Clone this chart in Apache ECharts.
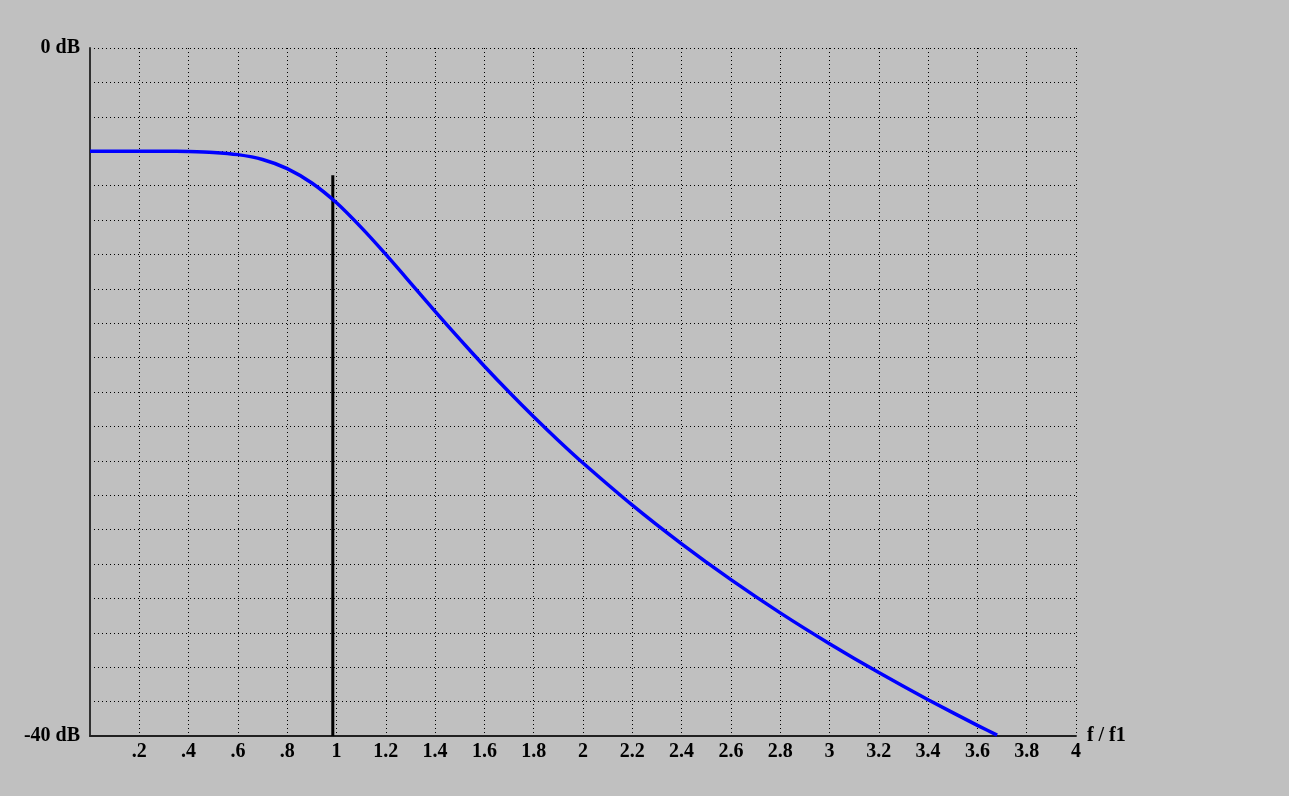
<!DOCTYPE html>
<html>
<head>
<meta charset="utf-8">
<script src="https://cdn.jsdelivr.net/npm/echarts@6/dist/echarts.min.js"></script>
<style>
html,body{margin:0;padding:0;background:#c0c0c0;}
#c{width:1289px;height:796px;}
</style>
</head>
<body>
<div id="c"></div>
<script>
// frequency ratio f/f1
const freq = [0, 0.1, 0.2, 0.3, 0.4, 0.5, 0.6, 0.7, 0.8, 0.9, 1.0, 1.1, 1.2, 1.3, 1.4, 1.5, 1.6, 1.7, 1.8, 1.9, 2.0, 2.2, 2.4, 2.6, 2.8, 3.0, 3.2, 3.4, 3.6, 3.68];
// level in dB
const level = [-6.0, -6.0, -6.0, -6.0, -6.02, -6.07, -6.2, -6.48, -7.01, -7.85, -9.0, -10.43, -12.0, -13.65, -15.31, -16.93, -18.5, -20.0, -21.44, -22.82, -24.13, -26.58, -28.83, -30.91, -32.84, -34.63, -36.31, -37.89, -39.38, -39.95];
// vertical marker at f1
const markerX = [0.985, 0.985];
const markerY = [-7.4, -40];
// axis labels
const yLabels = {"0": "0 dB", "-40": "-40 dB"};
const xName = "f / f1";

const chart = echarts.init(document.getElementById('c'));
const font = '"Liberation Serif","DejaVu Serif",serif';
chart.setOption({
  backgroundColor: '#c0c0c0',
  animation: false,
  grid: {left: 90, right: 213, top: 48, bottom: 60},
  xAxis: {
    type: 'value', min: 0, max: 4, interval: 0.2,
    name: xName, nameLocation: 'end', nameGap: 7,
    nameTextStyle: {color: '#000', fontFamily: font, fontWeight: 'bold', fontSize: 20, verticalAlign: 'middle'},
    axisLine: {show: true, onZero: false, lineStyle: {color: '#202020', width: 2}},
    axisTick: {show: false},
    axisLabel: {
      color: '#000', fontFamily: font, fontWeight: 'bold', fontSize: 20, margin: 6,
      formatter: function (v) {
        if (Math.abs(v) < 1e-9) return '';
        let s = (Math.round(v * 10) / 10).toString();
        if (s.startsWith('0.')) s = s.substring(1);
        return s;
      }
    },
    splitLine: {show: true, lineStyle: {color: '#000', width: 1, type: [1, 3]}}
  },
  yAxis: {
    type: 'value', min: -40, max: 0, interval: 2,
    axisLine: {show: true, onZero: false, lineStyle: {color: '#303030', width: 2}},
    axisTick: {show: false},
    axisLabel: {
      color: '#000', fontFamily: font, fontWeight: 'bold', fontSize: 20, margin: 10,
      formatter: function (v) { return yLabels[String(Math.round(v))] || ''; }
    },
    splitLine: {show: true, lineStyle: {color: '#000', width: 1, type: [1, 3]}}
  },
  series: [
    {
      type: 'line', showSymbol: false, smooth: 0.2,
      data: freq.map((f, i) => [f, level[i]]),
      lineStyle: {color: '#0000ff', width: 3.5},
      z: 3
    },
    {
      type: 'line', showSymbol: false,
      data: markerX.map((f, i) => [f, markerY[i]]),
      lineStyle: {color: '#000', width: 3},
      z: 2
    }
  ]
});
</script>
</body>
</html>
